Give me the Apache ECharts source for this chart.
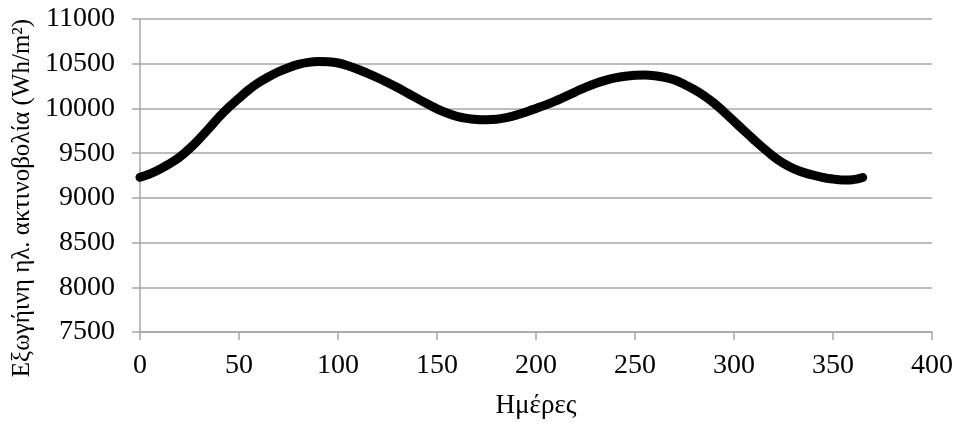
<!DOCTYPE html>
<html>
<head>
<meta charset="utf-8">
<script src="https://cdn.jsdelivr.net/npm/echarts@6/dist/echarts.min.js"></script>
<style>html,body{margin:0;padding:0;background:#fff}#c{width:956px;height:427px}</style>
</head>
<body>
<div id="c"></div>
<script>
var days = [0,5,10,15,20,25,30,35,40,45,50,55,60,65,70,75,80,85,90,95,100,105,110,115,120,125,130,135,140,145,150,155,160,165,170,175,180,185,190,195,200,205,210,215,220,225,230,235,240,245,250,255,260,265,270,275,280,285,290,295,300,305,310,315,320,325,330,335,340,345,350,355,360,365];
var radiation = [9230,9268,9320,9382,9455,9550,9660,9780,9905,10015,10115,10210,10290,10355,10410,10455,10492,10515,10525,10522,10508,10478,10438,10392,10343,10290,10233,10172,10112,10052,9995,9948,9912,9889,9877,9873,9878,9897,9925,9960,10000,10040,10085,10135,10186,10235,10278,10313,10341,10360,10371,10374,10365,10347,10318,10268,10210,10140,10057,9960,9857,9753,9652,9553,9462,9385,9328,9285,9253,9228,9210,9200,9203,9228];
var xTitle = 'Ημέρες';
var yTitle = 'Εξωγήινη ηλ. ακτινοβολία (Wh/m²)';

var FONT = 'Liberation Serif';
var pts = days.map(function(d,i){return [d, radiation[i]];});
var chart = echarts.init(document.getElementById('c'));
chart.setOption({
  animation:false,
  backgroundColor:'#fff',
  grid:{left:140, right:24, top:19, bottom:95},
  xAxis:{
    type:'value', min:0, max:400, interval:50,
    name:xTitle, nameLocation:'middle', nameGap:60,
    nameTextStyle:{fontFamily:FONT, fontSize:27, color:'#000'},
    axisLine:{show:true, lineStyle:{color:'#a6a6a6', width:1.5}},
    axisTick:{show:true, length:8, lineStyle:{color:'#a6a6a6', width:1.5}},
    axisLabel:{fontFamily:FONT, fontSize:28, color:'#000', margin:20, formatter:function(v){return String(v);}},
    splitLine:{show:false}
  },
  yAxis:{
    type:'value', min:7500, max:11000, interval:500,
    axisLine:{show:true, lineStyle:{color:'#a6a6a6', width:1.5}},
    axisTick:{show:true, length:8, lineStyle:{color:'#a6a6a6', width:1.5}},
    axisLabel:{fontFamily:FONT, fontSize:28, color:'#000', margin:25, formatter:function(v){return String(v);}},
    splitLine:{show:true, lineStyle:{color:'#a6a6a6', width:1.5}}
  },
  graphic:[{
    type:'text', x:22, y:198, rotation:Math.PI/2,
    style:{text:yTitle, fontFamily:FONT, fontSize:25, fill:'#000', textAlign:'center', textVerticalAlign:'middle'}
  }],
  series:[{
    type:'line', data:pts, smooth:0.3, showSymbol:false,
    lineStyle:{color:'#000', width:9, cap:'round', join:'round'}
  }]
});
</script>
</body>
</html>
